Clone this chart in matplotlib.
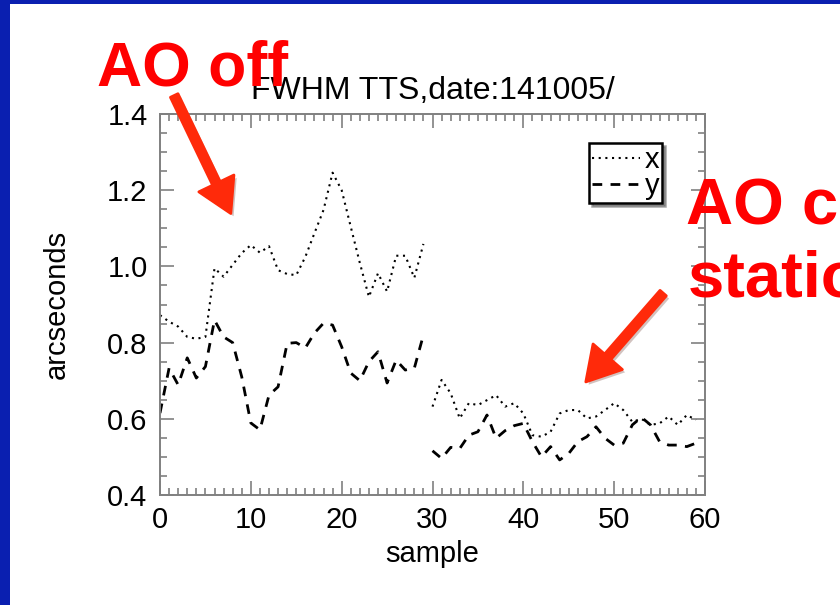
import matplotlib
matplotlib.use("Agg")
import matplotlib.pyplot as plt
from matplotlib.patches import FancyArrowPatch, Rectangle
from matplotlib.ticker import MultipleLocator, FormatStrFormatter
import matplotlib.patheffects as pe

plt.rcParams['font.family'] = ['Liberation Sans', 'DejaVu Sans']

# sample index 0..59, two runs of 30 samples (AO off / AO on)
sample = list(range(60))

fwhm_x = [0.872, 0.855, 0.842, 0.815, 0.810, 0.815, 0.995, 0.973, 1.004, 1.035,
          1.056, 1.036, 1.053, 0.990, 0.980, 0.977, 1.025, 1.087, 1.148, 1.246,
          1.200, 1.104, 1.009, 0.920, 0.982, 0.934, 1.028, 1.028, 0.970, 1.059,
          0.632, 0.702, 0.667, 0.601, 0.641, 0.636, 0.649, 0.662, 0.632, 0.641,
          0.614, 0.557, 0.553, 0.566, 0.614, 0.623, 0.623, 0.601, 0.606, 0.623,
          0.641, 0.623, 0.592, 0.600, 0.584, 0.588, 0.606, 0.584, 0.610, 0.597]

fwhm_y = [0.615, 0.733, 0.689, 0.760, 0.707, 0.737, 0.859, 0.815, 0.800, 0.710,
          0.589, 0.571, 0.662, 0.684, 0.798, 0.800, 0.786, 0.825, 0.851, 0.846,
          0.789, 0.720, 0.700, 0.750, 0.776, 0.694, 0.754, 0.728, 0.733, 0.820,
          0.516, 0.496, 0.525, 0.522, 0.557, 0.566, 0.610, 0.549, 0.569, 0.582,
          0.588, 0.540, 0.500, 0.527, 0.492, 0.509, 0.540, 0.553, 0.579, 0.549,
          0.531, 0.536, 0.584, 0.604, 0.584, 0.540, 0.531, 0.531, 0.527, 0.536]

runs = [(0, 30), (30, 60)]

W, H = 840, 605
fig = plt.figure(figsize=(W / 100, H / 100), dpi=100)
fig.patch.set_facecolor('white')

# slide border
border = '#0a1fb0'
fig.patches.append(Rectangle((0, 0), 10 / W, 1, transform=fig.transFigure,
                             facecolor=border, edgecolor='none', zorder=0))
fig.patches.append(Rectangle((0, 1 - 4 / H), 1, 4 / H, transform=fig.transFigure,
                             facecolor=border, edgecolor='none', zorder=0))

ax = fig.add_axes([160 / W, (H - 495) / H, 545 / W, 381 / H])

for i, (a, b) in enumerate(runs):
    ax.plot(sample[a:b], fwhm_x[a:b], color='black', lw=1.5,
            linestyle=(0, (1, 2.2)), label='x' if i == 0 else None)
    ax.plot(sample[a:b], fwhm_y[a:b], color='black', lw=2.0,
            linestyle=(0, (3.5, 3)), label='y' if i == 0 else None)

ax.set_xlim(0, 60)
ax.set_ylim(0.4, 1.4)
ax.xaxis.set_major_locator(MultipleLocator(10))
ax.xaxis.set_minor_locator(MultipleLocator(1))
ax.yaxis.set_major_locator(MultipleLocator(0.2))
ax.yaxis.set_minor_locator(MultipleLocator(0.05))
ax.yaxis.set_major_formatter(FormatStrFormatter('%.1f'))

spine_c = '#808080'
for s in ax.spines.values():
    s.set_color(spine_c)
    s.set_linewidth(1.4)
ax.tick_params(which='both', direction='in', top=True, right=True,
               color=spine_c, width=1.2, labelsize=21, labelcolor='black')
ax.tick_params(which='major', length=10)
ax.tick_params(which='minor', length=5)
ax.tick_params(axis='y', pad=9)
ax.tick_params(axis='x', pad=8)

ax.set_xlabel('sample', fontsize=21, labelpad=4)
ax.set_ylabel('arcseconds', fontsize=21, labelpad=26)
ax.set_title('FWHM TTS,date:141005/', fontsize=23, pad=11)

leg = ax.legend(loc='upper right', bbox_to_anchor=((662 - 160) / 545, (495 - 143) / 381),
                fontsize=21, handlelength=1.65, handletextpad=0.15, borderpad=0.1,
                labelspacing=-0.05, borderaxespad=0, fancybox=False, shadow=True,
                framealpha=1)
leg.get_frame().set_edgecolor('black')
leg.get_frame().set_linewidth(1.8)

# red annotations (right-hand text runs off the slide edge, as in the original)
red = '#ff0000'
fig.text(97 / W, 1 - 85 / H, 'AO off', color=red, fontsize=45,
         fontweight='bold', va='baseline', ha='left', zorder=10)
fig.text(686 / W, 1 - 223 / H, 'AO correction', color=red, fontsize=47,
         fontweight='bold', va='baseline', ha='left', zorder=10)
fig.text(688 / W, 1 - 297 / H, 'stationary', color=red, fontsize=47,
         fontweight='bold', va='baseline', ha='left', zorder=10)

arrow_c = '#ff2a0a'
for (x0, y0), (x1, y1) in [((173, 93), (232, 216)), ((665, 291), (584, 384))]:
    arr = FancyArrowPatch((x0 / W, 1 - y0 / H), (x1 / W, 1 - y1 / H),
                          transform=fig.transFigure,
                          arrowstyle='simple,head_length=2.4,head_width=2.8,tail_width=0.6',
                          mutation_scale=10, facecolor=arrow_c, edgecolor=arrow_c,
                          linewidth=2, joinstyle='round', capstyle='round', zorder=11)
    arr.set_path_effects([pe.SimplePatchShadow(offset=(2, -2), alpha=0.25), pe.Normal()])
    fig.patches.append(arr)

fig.savefig('out.png', dpi=100)
